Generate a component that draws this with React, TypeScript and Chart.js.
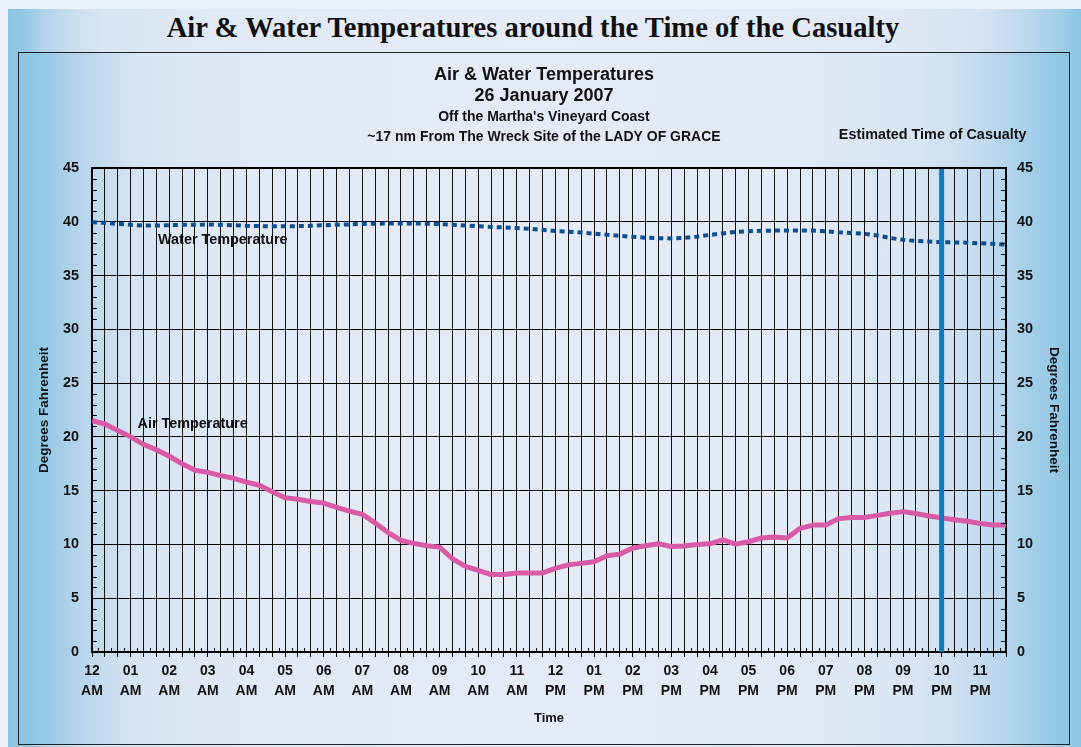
import React, { useEffect, useRef } from 'react';
import { Chart, registerables } from 'chart.js';

Chart.register(...registerables);

// ---------- data ----------
const HOUR_LABELS: string[][] = [
  ['12', 'AM'], ['01', 'AM'], ['02', 'AM'], ['03', 'AM'], ['04', 'AM'], ['05', 'AM'],
  ['06', 'AM'], ['07', 'AM'], ['08', 'AM'], ['09', 'AM'], ['10', 'AM'], ['11', 'AM'],
  ['12', 'PM'], ['01', 'PM'], ['02', 'PM'], ['03', 'PM'], ['04', 'PM'], ['05', 'PM'],
  ['06', 'PM'], ['07', 'PM'], ['08', 'PM'], ['09', 'PM'], ['10', 'PM'], ['11', 'PM'],
];

const SAMPLE_MINUTES = 20; // one reading every 20 minutes, from 12:00 AM
const Y_MIN = 0;
const Y_MAX = 45;
const Y_STEP = 5;
const CASUALTY_HOUR = 22; // 10 PM

const AIR_TEMP: number[] = [
  21.5, 21.2, 20.6, 20.0, 19.3, 18.8, 18.2, 17.5, 16.9, 16.7, 16.4, 16.15,
  15.8, 15.5, 14.9, 14.35, 14.2, 14.0, 13.85, 13.45, 13.1, 12.8, 12.0, 11.1,
  10.37, 10.1, 9.88, 9.75, 8.67, 7.96, 7.6, 7.2, 7.2, 7.35, 7.35, 7.35,
  7.78, 8.1, 8.24, 8.4, 8.95, 9.1, 9.66, 9.88, 10.06, 9.8, 9.85, 10.0,
  10.06, 10.43, 10.03, 10.25, 10.6, 10.7, 10.6, 11.5, 11.8, 11.8, 12.4, 12.5,
  12.5, 12.7, 12.9, 13.05, 12.87, 12.65, 12.47, 12.3, 12.15, 11.95, 11.8, 11.8,
];

const WATER_TEMP: number[] = [
  39.95, 39.9, 39.8, 39.72, 39.65, 39.65, 39.68, 39.72, 39.72, 39.75, 39.72, 39.68,
  39.62, 39.6, 39.58, 39.58, 39.6, 39.62, 39.68, 39.72, 39.76, 39.8, 39.82, 39.84,
  39.85, 39.85, 39.82, 39.78, 39.72, 39.65, 39.58, 39.52, 39.48, 39.42, 39.35, 39.25,
  39.15, 39.08, 39.0, 38.9, 38.8, 38.7, 38.6, 38.52, 38.48, 38.45, 38.5, 38.62,
  38.78, 38.92, 39.05, 39.12, 39.16, 39.18, 39.18, 39.18, 39.18, 39.12, 39.02, 38.95,
  38.88, 38.72, 38.5, 38.32, 38.22, 38.16, 38.1, 38.08, 38.06, 38.0, 37.95, 37.88,
];

const TITLE_LINES = [
  'Air & Water Temperatures',
  '26 January 2007',
  "Off the Martha's Vineyard Coast",
  '~17 nm From The Wreck Site of the LADY OF GRACE',
];

// ---------- helpers ----------
const SANS = '"Liberation Sans", Arial, Helvetica, sans-serif';
const STEP_H = SAMPLE_MINUTES / 60;
const toPoints = (vals: number[]) => vals.map((y, i) => ({ x: i * STEP_H, y }));
const X_MAX = (AIR_TEMP.length - 1) * STEP_H;

const decorPlugin = {
  id: 'decor',
  afterDraw(chart: any) {
    const { ctx, chartArea: a, scales } = chart;
    const xs = scales.x;
    const ys = scales.y;
    ctx.save();
    ctx.strokeStyle = '#000';
    // top frame
    ctx.lineWidth = 2;
    ctx.beginPath();
    ctx.moveTo(a.left - 1, a.top);
    ctx.lineTo(a.right + 1, a.top);
    ctx.stroke();
    // y minor ticks (inside, both sides)
    ctx.lineWidth = 1;
    for (let v = Y_MIN + 1; v < Y_MAX; v++) {
      if (v % Y_STEP === 0) continue;
      const py = Math.round(ys.getPixelForValue(v)) + 0.5;
      ctx.beginPath();
      ctx.moveTo(a.left, py);
      ctx.lineTo(a.left + 5, py);
      ctx.moveTo(a.right - 5, py);
      ctx.lineTo(a.right, py);
      ctx.stroke();
    }
    // x minor ticks (inside, between gridlines)
    for (let i = 0; i < AIR_TEMP.length - 1; i++) {
      const px = Math.round(xs.getPixelForValue(i * STEP_H + STEP_H / 2)) + 0.5;
      ctx.beginPath();
      ctx.moveTo(px, a.bottom);
      ctx.lineTo(px, a.bottom - 4);
      ctx.stroke();
    }
    // titles
    ctx.fillStyle = '#111';
    ctx.textAlign = 'center';
    ctx.textBaseline = 'middle';
    const cx = chart.width / 2;
    ctx.font = `bold 18px ${SANS}`;
    ctx.fillText(TITLE_LINES[0], cx, a.top - 93);
    ctx.fillText(TITLE_LINES[1], cx, a.top - 72);
    ctx.font = `bold 14px ${SANS}`;
    ctx.fillText(TITLE_LINES[2], cx, a.top - 51);
    ctx.fillText(TITLE_LINES[3], cx, a.top - 31);
    // casualty label
    ctx.font = `bold 14.4px ${SANS}`;
    ctx.fillText('Estimated Time of Casualty', xs.getPixelForValue(CASUALTY_HOUR) - 9, a.top - 33);
    // series labels
    ctx.textAlign = 'left';
    ctx.fillText('Water Temperature', xs.getPixelForValue(1.71), ys.getPixelForValue(38.3));
    ctx.fillText('Air Temperature', xs.getPixelForValue(1.18), ys.getPixelForValue(21.2));
    ctx.restore();
  },
};

export default function App() {
  const ref = useRef<HTMLCanvasElement>(null);

  useEffect(() => {
    document.body.style.margin = '0';
    const chart = new Chart(ref.current as HTMLCanvasElement, {
      type: 'line',
      data: {
        datasets: [
          {
            label: 'Estimated Time of Casualty',
            data: [
              { x: CASUALTY_HOUR, y: Y_MIN },
              { x: CASUALTY_HOUR, y: Y_MAX },
            ],
            borderColor: '#0a7cc1',
            borderWidth: 5,
            pointRadius: 0,
            borderCapStyle: 'butt',
          },
          {
            label: 'Water Temperature',
            data: toPoints(WATER_TEMP),
            borderColor: '#0d4f92',
            borderWidth: 4,
            borderDash: [5, 4],
            borderCapStyle: 'butt',
            pointRadius: 0,
            tension: 0,
          },
          {
            label: 'Air Temperature',
            data: toPoints(AIR_TEMP),
            borderColor: '#d95aa7',
            borderWidth: 5,
            borderJoinStyle: 'round',
            pointRadius: 0,
            tension: 0,
          },
        ],
      },
      options: {
        responsive: false,
        animation: false,
        layout: { padding: { top: 115, left: 0, right: 0, bottom: 0 } },
        plugins: {
          legend: { display: false },
          title: { display: false },
          tooltip: { enabled: false },
        },
        scales: {
          x: {
            type: 'linear',
            min: 0,
            max: X_MAX,
            afterBuildTicks: (s: any) => {
              s.ticks = AIR_TEMP.map((_, i) => ({ value: i * STEP_H }));
            },
            afterFit: (s: any) => {
              s.height = 92;
            },
            grid: {
              color: '#111',
              lineWidth: 1,
              drawTicks: true,
              tickLength: 5,
              tickColor: '#000',
            },
            border: { display: true, color: '#000', width: 2 },
            ticks: {
              autoSkip: false,
              maxRotation: 0,
              minRotation: 0,
              padding: 4,
              color: '#111',
              font: { family: SANS, size: 14, weight: 'bold', lineHeight: 1.45 },
              callback: (_v: any, i: number) => (i % 3 === 0 ? HOUR_LABELS[i / 3] : ''),
            },
            title: {
              display: true,
              text: 'Time',
              color: '#111',
              font: { family: SANS, size: 13, weight: 'bold' },
              padding: { top: 0, bottom: 18 },
            },
          },
          y: {
            position: 'left',
            min: Y_MIN,
            max: Y_MAX,
            afterFit: (s: any) => {
              s.width = 73;
            },
            grid: { color: '#000', lineWidth: 1, drawTicks: false },
            border: { display: true, color: '#000', width: 2 },
            ticks: {
              stepSize: Y_STEP,
              padding: 13,
              color: '#111',
              font: { family: SANS, size: 14.4, weight: 'bold' },
            },
            title: {
              display: true,
              text: 'Degrees Fahrenheit',
              color: '#111',
              font: { family: SANS, size: 13.5, weight: 'bold' },
              padding: { top: 17, bottom: 0 },
            },
          },
          y2: {
            position: 'right',
            min: Y_MIN,
            max: Y_MAX,
            afterFit: (s: any) => {
              s.width = 63;
            },
            grid: { display: false, drawTicks: false },
            border: { display: true, color: '#000', width: 2 },
            ticks: {
              stepSize: Y_STEP,
              padding: 11,
              color: '#111',
              font: { family: SANS, size: 14.4, weight: 'bold' },
            },
            title: {
              display: true,
              text: 'Degrees Fahrenheit',
              color: '#111',
              font: { family: SANS, size: 13.5, weight: 'bold' },
              padding: { top: 7, bottom: 0 },
            },
          },
        },
      } as any,
      plugins: [decorPlugin],
    });
    return () => chart.destroy();
  }, []);

  const outerGradient =
    'linear-gradient(to right, #8cc6e3 0%, #93c9e5 1.5%, #b3d3ea 3.5%, #cadeef 6%, #d9e5f3 9%, #e1e9f5 20%, #e6ecf7 50%, #e1e9f5 80%, #d8e4f3 90%, #c4dbee 94%, #a6cfe8 97.5%, #8cc6e3 100%)';
  const innerGradient =
    'linear-gradient(to right, #8cc6e3 0%, #95cae5 2.5%, #b0d2ea 5%, #c6dcef 8%, #d5e3f2 11%, #dde7f4 16%, #e3eaf6 30%, #e5ebf6 50%, #e2eaf6 72%, #dae6f4 84%, #cfe0f1 89%, #bcd7ed 93%, #a2cee8 96.5%, #8cc6e3 100%)';

  return (
    <div
      style={{
        position: 'relative',
        width: 1081,
        height: 747,
        overflow: 'hidden',
        background: '#e9f0f9',
      }}
    >
      <div
        style={{
          position: 'absolute',
          left: 8,
          top: 9,
          width: 1073,
          height: 738,
          background: outerGradient,
        }}
      >
        <div
          style={{
            position: 'absolute',
            left: 0,
            width: 1050,
            top: 3,
            textAlign: 'center',
            font: 'bold 28.6px/32px "Liberation Serif", "Times New Roman", serif',
            color: '#111',
            whiteSpace: 'nowrap',
          }}
        >
          Air &amp; Water Temperatures around the Time of the Casualty
        </div>
        <div
          style={{
            position: 'absolute',
            left: 10,
            top: 43,
            width: 1050,
            height: 691,
            border: '1px solid #222',
            background: innerGradient,
          }}
        >
          <canvas
            ref={ref}
            width={1050}
            height={691}
            style={{ display: 'block', width: 1050, height: 691 }}
          />
        </div>
      </div>
    </div>
  );
}
